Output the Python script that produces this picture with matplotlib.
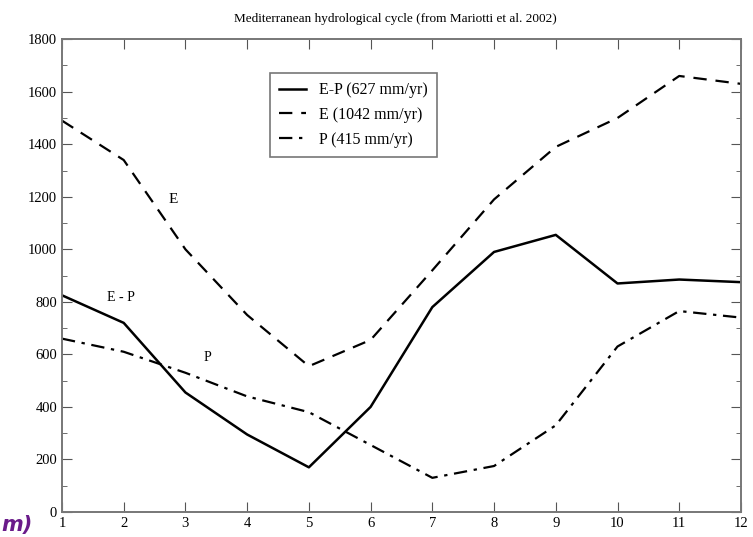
import numpy as np
import matplotlib.pyplot as plt
from matplotlib.ticker import MultipleLocator

# ====== data (mm/yr) ======
months = [1, 2, 3, 4, 5, 6, 7, 8, 9, 10, 11, 12]
e_minus_p = [825, 720, 455, 295, 170, 400, 780, 990, 1055, 870, 885, 875]
evap = [1490, 1340, 1000, 750, 555, 655, 920, 1190, 1390, 1500, 1660, 1630]
precip = [660, 610, 530, 440, 380, 255, 130, 175, 330, 630, 765, 740]

plt.rcParams['font.family'] = ['Liberation Serif', 'DejaVu Serif']

fig = plt.figure(figsize=(7.53, 5.37), dpi=100)
ax = fig.add_axes([0.0823, 0.0466, 0.9017, 0.8804])

ax.plot(months, e_minus_p, color='black', lw=1.8, ls='-', label='E-P (627 mm/yr)')
ax.plot(months, evap, color='black', lw=1.6, ls=(0, (6, 4)), label='E (1042 mm/yr)')
ax.plot(months, precip, color='black', lw=1.6, ls=(0, (6, 3, 1.5, 3)), label='P (415 mm/yr)')

ax.set_xlim(1, 12)
ax.set_ylim(0, 1800)
ax.xaxis.set_major_locator(MultipleLocator(1))
ax.yaxis.set_major_locator(MultipleLocator(200))
ax.yaxis.set_minor_locator(MultipleLocator(100))
ax.tick_params(which='both', direction='in', top=True, right=True,
               labelsize=10.5, color='#555555')
ax.tick_params(which='major', length=7)
ax.tick_params(which='minor', length=3.5)
for s in ax.spines.values():
    s.set_color('#777777')
    s.set_linewidth(1.4)

# curve labels
ax.text(2.73, 1190, 'E', fontsize=11, va='center')
ax.text(1.73, 815, 'E - P', fontsize=10, va='center')
ax.text(3.3, 590, 'P', fontsize=10, va='center')

leg = ax.legend(loc='upper left', bbox_to_anchor=(0.294, 0.946), fontsize=11.5,
                frameon=True, fancybox=False, handlelength=1.7,
                borderpad=0.6, labelspacing=0.55, handletextpad=0.8)
leg.get_frame().set_edgecolor('#555555')
leg.get_frame().set_linewidth(1.2)

fig.text(0.525, 0.965, 'Mediterranean hydrological cycle (from Mariotti et al. 2002)',
         ha='center', va='center', fontsize=9.5)

fig.text(0.002, 0.004, 'm)', color='#6a1b8a', fontsize=15, fontweight='bold',
         fontstyle='italic', family=['DejaVu Sans'], ha='left', va='bottom')

fig.savefig('out.png', dpi=100)
